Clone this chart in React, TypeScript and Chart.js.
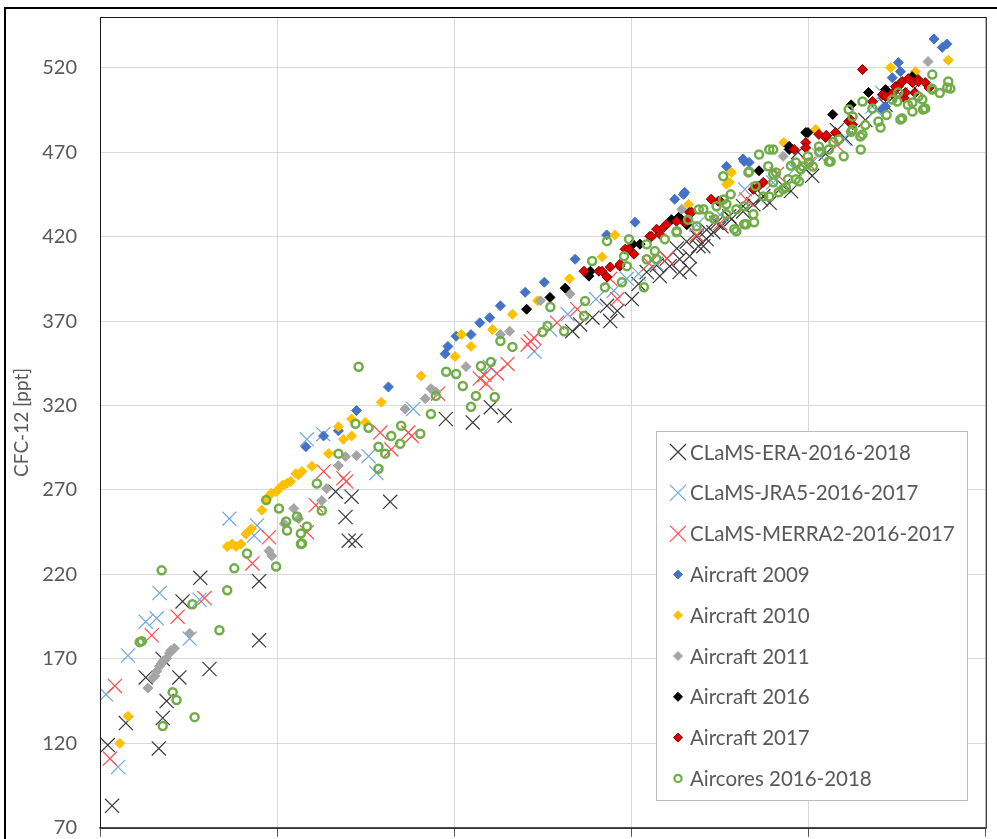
import { useEffect, useRef } from 'react';
import { Chart, registerables } from 'chart.js';

Chart.register(...registerables);

type Pt = [number, number];

const xTicks = [0, 50, 100, 150, 200, 250];
const yTicks = [70, 120, 170, 220, 270, 320, 370, 420, 470, 520];

const eraPoints: Pt[] = [
  [3.4, 83], [2.2, 119], [7.3, 132], [16.6, 117], [17.7, 135], [18.8, 145], [12.9, 159], [22.4, 159],
  [17.7, 170], [30.9, 164], [44.9, 181], [23.3, 204], [28.3, 218], [44.9, 216], [69.3, 254], [71, 266],
  [66.5, 269], [81.9, 263], [70.2, 240], [72.1, 240], [97.6, 312], [105.2, 310], [110.3, 319], [114.2, 314],
  [133.3, 364], [135.5, 368], [139, 372], [144, 370], [143.1, 379], [146, 376], [150.1, 383], [152, 392],
  [154.3, 399], [157.1, 403], [158, 396.6], [160, 407], [160.8, 402.5], [162.8, 413], [163.6, 406.6],
  [163.6, 399], [165.6, 417], [166.4, 408.4], [166.4, 400.7], [168.4, 420], [168.9, 414.3], [170.3, 414.3],
  [171.2, 418.5], [171.2, 424], [173.1, 422.6], [174, 428], [175.4, 426.1], [177.6, 432], [178.2, 430.3],
  [181.5, 434.9], [181.5, 438], [184.4, 439.1], [186.6, 442.1], [187.2, 444], [189, 440], [192.8, 450],
  [195, 447], [197, 470], [199.2, 460], [201, 456], [204.8, 469], [208, 483], [210.4, 478], [216, 489],
  [221.7, 498], [225.9, 504], [230, 508],
];

const jraPoints: Pt[] = [
  [1.7, 149], [5.1, 106], [7.9, 172], [12.9, 192], [16, 194], [16.8, 209], [25.3, 182], [28.1, 205],
  [36.5, 253], [44.3, 249], [43.5, 243], [58.4, 300], [63, 303], [75.8, 290], [78, 280], [88.4, 318],
  [110, 343], [122.6, 352], [127, 365], [132, 374], [140, 383], [145, 388], [148.7, 395], [152, 398],
  [157, 404], [168.4, 427], [175, 433], [182, 448], [190, 452], [196, 460], [203, 468], [210, 478],
  [218, 497], [219, 495], [220.8, 505],
];

const merraPoints: Pt[] = [
  [2.8, 111], [4.2, 154], [14.6, 184], [21.9, 195], [29.5, 206], [43, 226.5], [47.7, 242], [58.4, 245],
  [60.9, 261], [63.1, 281], [68.7, 277], [69.5, 275], [79.1, 304], [82.2, 294], [87, 304], [88, 302],
  [95.4, 327], [107.2, 336], [108.5, 338], [109, 333], [112, 339], [115, 344.6], [120.7, 356], [121.5, 358],
  [122.5, 360], [129, 369], [134.7, 377], [144, 395], [146, 383], [155, 404], [160, 407], [168.4, 421],
  [175, 428], [182.4, 442], [191, 457], [200, 463], [208, 474],
];

const air2009: Pt[] = [
  [58.1, 295.6], [63.1, 302], [67.3, 305], [72.4, 317], [81.4, 331], [97.4, 350.6], [98.2, 355], [100.5, 361],
  [104.7, 362], [107.2, 369], [110, 372], [113, 379], [120, 387], [125.4, 393], [134.1, 406.6], [143, 421],
  [151, 428.5], [162.2, 442.1], [164.7, 445], [165, 446.2], [176.8, 461.6], [181.5, 466], [181.8, 464.5],
  [183.2, 463.9], [220.8, 495.2], [221.7, 497], [223.6, 514.1], [225.9, 517.7], [225.3, 523],
  [235.4, 537], [237.7, 532], [239, 534],
];

const air2010: Pt[] = [
  [5.6, 120], [7.9, 136], [35.9, 236.5], [37.3, 238], [38.4, 236.5], [39.8, 238], [41.2, 244], [42.7, 247],
  [45.7, 258], [46.9, 264], [47.5, 266], [48.3, 268], [49.7, 269], [50.2, 270], [51.4, 272.6], [52, 273],
  [52.8, 274], [53.8, 275], [55.3, 279.7], [56, 279], [57, 281], [59.8, 284], [64.5, 291.5], [67.3, 307.4],
  [68.7, 300], [71, 302], [71, 312], [74.9, 310], [79.4, 322], [90.6, 337.5], [100.2, 349], [102, 362],
  [104.7, 355], [110.8, 365], [116.4, 374], [123.5, 382], [132.5, 395], [141.7, 408], [145.3, 421],
  [166.1, 439.1], [176.8, 451], [177.6, 452.1], [178.2, 458], [193, 475.7], [202, 483.4], [223.1, 520],
  [230.1, 517.7], [239.4, 524.4],
];

const air2011: Pt[] = [
  [13.5, 152.7], [14.9, 158.6], [15.5, 160], [16, 162.7], [16.8, 165.7], [17.2, 167], [17.7, 168.6],
  [18.8, 170.4], [19.6, 173.4], [20, 175], [21, 176.3], [25.3, 185.2], [47.7, 234], [48.5, 231], [52, 250],
  [54.7, 259], [56.1, 253], [62.6, 263.7], [64, 270.8], [67.3, 284.4], [69.3, 289.7], [72.4, 290.3],
  [86.1, 318], [91.8, 324], [93.4, 330], [94.8, 328], [103.3, 343], [113, 362], [115.6, 364], [124.3, 382],
  [132.7, 386], [164.2, 436.2], [192.8, 467.5], [233.7, 523.6],
];

const air2016: Pt[] = [
  [120.4, 377], [127, 384], [131.3, 389.5], [138, 396.6], [138.4, 399.5], [150.4, 415.5], [152.4, 415.5],
  [161.3, 430], [163.3, 431.4], [164, 430.3], [165.6, 427], [186, 459], [194.5, 471.6], [194.5, 473.4],
  [199.2, 481.6], [199.8, 481.6], [206.8, 492.3], [212, 498], [216.9, 505.3], [221.7, 507], [226, 511],
  [229.2, 514.7],
];

const air2017: Pt[] = [
  [136.6, 399.5], [140.8, 399.5], [141.7, 399.5], [143.1, 396], [144, 402], [146.7, 402.5], [146.8, 403.7],
  [148.2, 412.5], [149.3, 412.5], [150.7, 409.6], [155.2, 420.2], [155.7, 420], [157.1, 424.4],
  [158, 421.4], [159.1, 425.5], [159.9, 427.3], [162.7, 429.1], [165, 428.5], [165.6, 429.1], [166.4, 434.4],
  [167, 434.4], [172.5, 442.1], [174.5, 440.9], [175, 441], [184.4, 448], [185.8, 449.8], [187.2, 452.1],
  [195.9, 471.6], [199.2, 475.7], [199.2, 472.6], [202.9, 480.5], [204.8, 478.7], [205, 480], [207.6, 481.6],
  [211.3, 488.1], [211.9, 489], [212.4, 486.4], [215.2, 518.9], [218, 500], [220.8, 504], [221.7, 502.9],
  [223.6, 504.7], [224.5, 508.8], [225.3, 508.8], [226.4, 511.8], [227, 502], [227.3, 505.3], [228.1, 513.5],
  [229.3, 511.2], [230, 505], [230.9, 513], [231, 511.8], [232.9, 511.2], [234, 508],
];

const aircores: Pt[] = [
  [11.2, 179.9], [11.8, 180.5], [17.4, 222.4], [20.5, 150.3], [21.6, 145.6], [17.7, 130.2], [26.7, 135.5],
  [26.1, 202.3], [33.7, 186.9], [35.9, 210.6], [37.9, 223.6], [41.5, 232.4], [49.7, 224.7], [56.7, 238],
  [46.9, 264], [50.5, 259], [52.5, 251.3], [52.8, 246], [55.6, 254.3], [56.7, 244.2], [57, 238.3],
  [58.4, 248.4], [61.2, 273.8], [62.6, 257.8], [67.3, 291.5], [72.1, 309.2], [73, 342.9], [75.8, 306.8],
  [78.6, 282.6], [78.6, 295.6], [80.5, 291.5], [82.2, 302], [84.7, 297.4], [85, 308], [90.4, 303.3],
  [93.4, 315], [94.8, 325.7], [97.7, 340], [100.5, 338.7], [102.4, 331.6], [104.7, 319.2], [106.1, 325.7],
  [107.5, 343.4], [110.3, 345.8], [111.4, 325], [113, 358.2], [116.4, 354.7], [124.9, 363.5], [126.3, 367],
  [127.1, 378.3], [131, 364], [136.6, 373], [136.9, 381.8], [138.9, 405.5], [142.5, 390], [143.1, 417.3],
  [147.3, 393], [147.9, 408.4], [148.7, 402.5], [149.3, 418.5], [153.5, 390], [154.3, 406.6], [154.3, 415.5],
  [156.6, 411.4], [157.1, 406.6], [159.4, 418.5], [162.7, 422.6], [162.8, 423.2], [166, 430], [168.4, 426.1],
  [169, 436], [170.3, 436.2], [172, 432], [173.4, 430.3], [174, 437.9], [175.9, 442], [175.9, 455.7],
  [176.8, 433.2], [176.8, 439.1], [178, 445], [179, 424.4], [179.6, 423.2], [179.6, 436.2], [181.8, 437.9],
  [181.8, 427.3], [182.4, 427.3], [183, 458], [183.2, 458.6], [184.4, 433.2], [184.6, 428.5], [185, 450],
  [186, 468.6], [187.2, 443.8], [188.6, 461.6], [188.9, 471.6], [188.9, 443.8], [190, 457], [190, 471.6],
  [190, 452.1], [190.8, 458], [191.6, 446.2], [192.8, 448], [193.6, 449.2], [194.2, 454], [195, 462],
  [196.4, 453.9], [196.4, 463.9], [197.3, 452.7], [197.8, 459.8], [198.4, 461.5], [199.8, 467.5],
  [200.1, 463.9], [201.2, 461.5], [202.9, 473.4], [203, 470], [205.7, 464.5], [205.7, 471.6], [206.2, 464.5],
  [207, 476], [208.5, 477.5], [209.9, 467.5], [211.3, 495.2], [212, 482], [212.4, 483.4], [212.4, 491.1],
  [214.6, 479.3], [214.7, 471.6], [215.2, 480.5], [215.2, 500], [216, 486], [218, 495.8], [219.7, 488.1],
  [220.3, 484.6], [222, 492], [223.6, 501.1], [225, 500], [225.3, 505.3], [225.9, 489.3], [226.4, 490],
  [228, 498], [229.3, 494], [229.3, 499.4], [231, 503], [232.1, 501.1], [232.3, 495.2], [232.9, 495.8],
  [234.8, 507.6], [234.9, 507], [234.9, 515.9], [237, 505], [239.1, 508.2], [239.4, 511.8], [240, 507.6],
];

const seriesLabels = [
  'CLaMS-ERA-2016-2018',
  'CLaMS-JRA5-2016-2017',
  'CLaMS-MERRA2-2016-2017',
  'Aircraft 2009',
  'Aircraft 2010',
  'Aircraft 2011',
  'Aircraft 2016',
  'Aircraft 2017',
  'Aircores 2016-2018',
];
const seriesPoints = [eraPoints, jraPoints, merraPoints, air2009, air2010, air2011, air2016, air2017, aircores];

const toXY = (pts: Pt[]) => pts.map(([x, y]) => ({ x, y }));

function crossStyle(color: string) {
  return { pointStyle: 'crossRot', pointRadius: 10, borderColor: color, backgroundColor: color, pointBorderWidth: 1.2 };
}
function diamondStyle(fill: string, line: string) {
  return { pointStyle: 'rectRot', pointRadius: 5, backgroundColor: fill, borderColor: line, pointBorderWidth: 1 };
}
const seriesStyles: any[] = [
  crossStyle('#3a3a3a'),
  crossStyle('#6FA8DC'),
  crossStyle('#FF4D4D'),
  diamondStyle('#4472C4', '#4472C4'),
  diamondStyle('#FFC000', '#FFC000'),
  diamondStyle('#A5A5A5', '#A5A5A5'),
  diamondStyle('#000000', '#000000'),
  diamondStyle('#E00000', '#7a0000'),
  { pointStyle: 'circle', pointRadius: 4, backgroundColor: 'rgba(0,0,0,0)', borderColor: '#70AD47', pointBorderWidth: 2.5 },
];

const frame = {
  id: 'plotFrame',
  afterDatasetsDraw(chart: any) {
    const { ctx, chartArea: a } = chart;
    ctx.save();
    ctx.strokeStyle = '#1a1a1a';
    ctx.lineWidth = 1;
    ctx.strokeRect(a.left + 0.5, a.top + 0.5, a.right - a.left, a.bottom - a.top);
    ctx.restore();
  },
};

const boxLegend = {
  id: 'boxLegend',
  afterDraw(chart: any) {
    const ctx = chart.ctx;
    const left = 656, top = 431, w = 311, h = 369;
    ctx.save();
    ctx.fillStyle = '#ffffff';
    ctx.fillRect(left, top, w, h);
    ctx.strokeStyle = '#BFBFBF';
    ctx.lineWidth = 1;
    ctx.strokeRect(left + 0.5, top + 0.5, w, h);
    ctx.font = '20.5px Lato';
    ctx.textBaseline = 'middle';
    chart.data.datasets.forEach((ds: any, i: number) => {
      const cy = top + 21 + i * 40.8;
      const cx = 678;
      ctx.beginPath();
      if (ds.pointStyle === 'crossRot') {
        ctx.strokeStyle = ds.borderColor;
        ctx.lineWidth = 1.2;
        ctx.moveTo(cx - 8, cy - 8); ctx.lineTo(cx + 8, cy + 8);
        ctx.moveTo(cx + 8, cy - 8); ctx.lineTo(cx - 8, cy + 8);
        ctx.stroke();
      } else if (ds.pointStyle === 'rectRot') {
        ctx.fillStyle = ds.backgroundColor;
        ctx.strokeStyle = ds.borderColor;
        ctx.lineWidth = 1;
        ctx.moveTo(cx - 4.5, cy); ctx.lineTo(cx, cy - 4.5); ctx.lineTo(cx + 4.5, cy); ctx.lineTo(cx, cy + 4.5);
        ctx.closePath();
        ctx.fill();
        ctx.stroke();
      } else {
        ctx.strokeStyle = ds.borderColor;
        ctx.lineWidth = 2.2;
        ctx.arc(cx, cy, 3.6, 0, Math.PI * 2);
        ctx.stroke();
      }
      ctx.fillStyle = '#595959';
      ctx.fillText(ds.label, 690, cy + 1);
    });
    ctx.restore();
  },
};

export default function App() {
  const canvasRef = useRef<HTMLCanvasElement>(null);

  useEffect(() => {
    if (!canvasRef.current) return;
    const n = seriesLabels.length;
    const chart = new Chart(canvasRef.current, {
      type: 'scatter',
      data: {
        datasets: seriesLabels.map((label, i) => ({
          label,
          data: toXY(seriesPoints[i]),
          order: n - i,
          ...seriesStyles[i],
        })),
      },
      options: {
        responsive: false,
        animation: false,
        devicePixelRatio: 1,
        layout: { padding: { top: 17, right: 7, left: 0, bottom: 0 } },
        plugins: { legend: { display: false }, tooltip: { enabled: false } },
        scales: {
          x: {
            type: 'linear',
            min: 0,
            max: 250,
            afterBuildTicks: (s: any) => { s.ticks = xTicks.map((v) => ({ value: v })); },
            afterFit: (s: any) => { s.height = 9; s.paddingLeft = 0; s.paddingRight = 0; },
            ticks: { display: false },
            grid: { color: '#D9D9D9', tickLength: 9, tickColor: '#595959' },
            border: { color: '#595959', width: 1.5 },
          },
          y: {
            type: 'linear',
            min: 70,
            max: 550,
            afterBuildTicks: (s: any) => { s.ticks = yTicks.map((v) => ({ value: v })); },
            afterFit: (s: any) => { s.width = 100; s.paddingTop = 0; s.paddingBottom = 0; },
            ticks: { padding: 23, color: '#595959', font: { family: 'Lato', size: 20 } },
            grid: { color: '#D9D9D9', drawTicks: false },
            border: { color: '#1a1a1a' },
            title: {
              display: true,
              text: 'CFC-12 [ppt]',
              color: '#595959',
              font: { family: 'Lato', size: 19 },
              padding: { top: 10, bottom: 0 },
            },
          },
        },
      },
      plugins: [frame, boxLegend],
    });
    return () => chart.destroy();
  }, []);

  return (
    <div style={{ position: 'fixed', left: 0, top: 0, width: 997, height: 839, overflow: 'hidden', background: '#fff' }}>
      <div style={{ position: 'absolute', left: 4, top: 7, width: 1100, height: 1000, border: '2px solid #000', boxSizing: 'border-box' }} />
      <canvas ref={canvasRef} width={997} height={839} style={{ position: 'absolute', left: 0, top: 0 }} />
    </div>
  );
}
